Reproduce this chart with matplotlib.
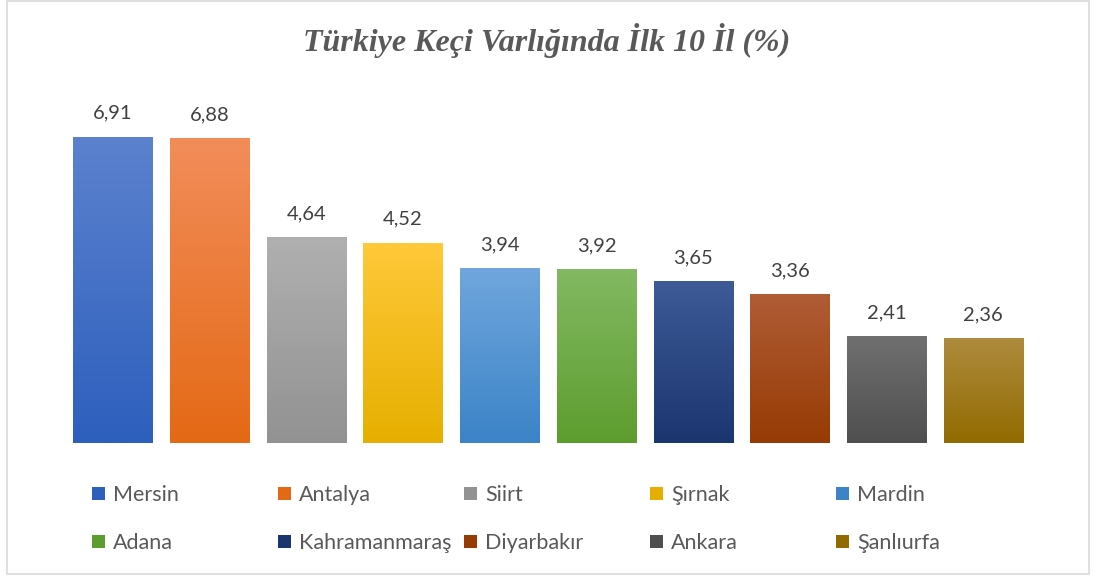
import matplotlib.pyplot as plt
import numpy as np
from matplotlib.colors import LinearSegmentedColormap
from matplotlib.patches import Patch, Rectangle

# data
iller = ['Mersin', 'Antalya', 'Siirt', 'Şırnak', 'Mardin',
         'Adana', 'Kahramanmaraş', 'Diyarbakır', 'Ankara', 'Şanlıurfa']
oranlar = [6.91, 6.88, 4.64, 4.52, 3.94, 3.92, 3.65, 3.36, 2.41, 2.36]

# gradient colours: top, bottom
ust_renk = ['#5C82CE', '#F28D5A', '#B0B0B0', '#FFC93A', '#70A6DD',
            '#82B962', '#3E5B97', '#B05C36', '#707070', '#AE8B3E']
alt_renk = ['#2D5FBD', '#E46915', '#929292', '#E6AF00', '#3B84C7',
            '#5D9D2E', '#1B356F', '#963B04', '#4F4F4F', '#926B00']

fig = plt.figure(figsize=(10.94, 5.79), dpi=100)
ax = fig.add_axes([0.059, 0.2349, 0.884, 0.612])

x = np.arange(len(iller))
bars = ax.bar(x, oranlar, width=0.82, color=alt_renk, zorder=2)
ax.set_xlim(-0.5, len(iller) - 0.5)
ax.set_ylim(0, 8)

grad = np.linspace(1, 0, 256).reshape(-1, 1)
for b, top, bot in zip(bars, ust_renk, alt_renk):
    cmap = LinearSegmentedColormap.from_list('g', [bot, top])
    x0, y0 = b.get_x(), b.get_y()
    im = ax.imshow(grad, cmap=cmap, aspect='auto', origin='upper',
                   extent=(x0, x0 + b.get_width(), y0, y0 + b.get_height()),
                   zorder=3, vmin=0, vmax=1)
    im.set_clip_path(b)

for xi, v in zip(x, oranlar):
    ax.annotate(f'{v:.2f}'.replace('.', ','), (xi, v), xytext=(0, 11),
                textcoords='offset points', ha='center', va='bottom',
                fontsize=14.5, family='Lato', color='#404040')

ax.set_xticks([])
ax.set_yticks([])
for s in ax.spines.values():
    s.set_visible(False)

fig.text(0.5, 0.93, 'Türkiye Keçi Varlığında İlk 10 İl (%)', ha='center', va='center',
         fontsize=23, family='Liberation Serif', style='italic', fontweight='bold',
         color='#595959')

# legend: 5 columns of 2 rows each, row-major order like the original
handles = [Patch(facecolor=c, edgecolor='none') for c in alt_renk]
col_x = [92, 278, 464, 650, 836]
for i, cx in enumerate(col_x):
    fig.legend([handles[i], handles[i + 5]], [iller[i], iller[i + 5]],
               loc='upper left', bbox_to_anchor=(cx / 1094, 1 - 485 / 579),
               frameon=False, prop={'family': 'Lato', 'size': 15.5},
               handlelength=0.6, handleheight=0.6, handletextpad=0.38,
               labelspacing=1.3, borderaxespad=0, borderpad=0,
               labelcolor='#595959')

fig.add_artist(Rectangle((7 / 1094, 1 - 574 / 579), 1082 / 1094, 573 / 579,
                         transform=fig.transFigure, fill=False,
                         edgecolor='#D9D9D9', linewidth=1.2))

fig.savefig('out.png', dpi=100, facecolor='white')
